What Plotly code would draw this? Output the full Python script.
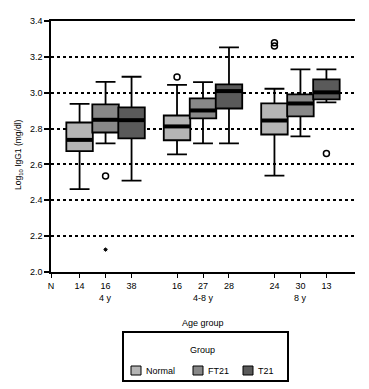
import plotly.graph_objects as go

# ---- data ----
age_groups = ["4 y", "4-8 y", "8 y"]
series = ["Normal", "FT21", "T21"]
n_normal = [14, 16, 24]
n_ft21 = [16, 27, 30]
n_t21 = [38, 28, 13]

normal_q1 = [2.674, 2.735, 2.767]
normal_med = [2.737, 2.812, 2.845]
normal_q3 = [2.834, 2.873, 2.940]
normal_lo = [2.462, 2.656, 2.538]
normal_hi = [2.938, 3.044, 3.022]

ft21_q1 = [2.778, 2.857, 2.868]
ft21_med = [2.849, 2.901, 2.940]
ft21_q3 = [2.935, 2.968, 2.991]
ft21_lo = [2.717, 2.717, 2.756]
ft21_hi = [3.061, 3.059, 3.130]

t21_q1 = [2.745, 2.912, 2.963]
t21_med = [2.847, 3.009, 3.002]
t21_q3 = [2.918, 3.046, 3.074]
t21_lo = [2.510, 2.717, 2.946]
t21_hi = [3.089, 3.253, 3.130]

# outliers: (series index, age group index, value)
outlier_series = [0, 0, 0, 1, 2]
outlier_group = [1, 2, 2, 0, 2]
outlier_vals = [3.087, 3.279, 3.260, 2.536, 2.661]
extreme_series = [1]
extreme_group = [0]
extreme_vals = [2.125]

y_ticks = [2.0, 2.2, 2.4, 2.6, 2.8, 3.0, 3.2, 3.4]

# ---- layout helpers ----
group_centers = [2.1, 5.85, 9.6]
offsets = [-1.0, 0.0, 1.0]
colors = ["#b5b5b5", "#888888", "#5a5a5a"]
FONT = "Liberation Sans, Arial, sans-serif"

# figure geometry (page body has an 8px margin)
W, H = 361, 381
ML, MR, MT, MB = 43, 14, 13, 117
PW = W - ML - MR
PH = H - MT - MB


def px(X):
    return (X - ML) / PW


def py(Y):
    return (H - MB - Y) / PH


def xpos(s, g):
    return group_centers[g] + offsets[s]


stats = [
    (normal_q1, normal_med, normal_q3, normal_lo, normal_hi),
    (ft21_q1, ft21_med, ft21_q3, ft21_lo, ft21_hi),
    (t21_q1, t21_med, t21_q3, t21_lo, t21_hi),
]
ns = [n_normal, n_ft21, n_t21]

fig = go.Figure()
for s, name in enumerate(series):
    q1, med, q3, lo, hi = stats[s]
    xs = [xpos(s, g) for g in range(3)]
    fig.add_trace(go.Box(
        name=name, x=xs, q1=q1, median=med, q3=q3,
        lowerfence=lo, upperfence=hi,
        width=1.02, whiskerwidth=0.75,
        fillcolor=colors[s], line=dict(color="black", width=1.8),
        boxpoints=False, showlegend=False,
    ))

# thick medians (line-ew symbol length is 1.4 x size)
for s in range(3):
    xs = [xpos(s, g) for g in range(3)]
    fig.add_trace(go.Scatter(
        x=xs, y=stats[s][1], mode="markers", showlegend=False, hoverinfo="skip",
        marker=dict(symbol="line-ew", size=18.5, line=dict(color="black", width=4)),
    ))

fig.add_trace(go.Scatter(
    x=[xpos(s, g) for s, g in zip(outlier_series, outlier_group)], y=outlier_vals,
    mode="markers", showlegend=False,
    marker=dict(symbol="circle-open", size=6, color="black", line=dict(width=1.5)),
))
fig.add_trace(go.Scatter(
    x=[xpos(s, g) for s, g in zip(extreme_series, extreme_group)], y=extreme_vals,
    mode="markers", showlegend=False,
    marker=dict(symbol="asterisk-open", size=3.5, color="black", line=dict(width=1)),
))

tickvals = [0] + [xpos(s, g) for g in range(3) for s in range(3)]
ticktext = ["N"] + [str(ns[s][g]) for g in range(3) for s in range(3)]

for g, lab in enumerate(age_groups):
    fig.add_annotation(x=group_centers[g], y=py(290), xref="x", yref="paper",
                       text=lab, showarrow=False, yanchor="middle",
                       font=dict(size=9, color="black", family=FONT))
fig.add_annotation(x=0.5, y=py(315), xref="paper", yref="paper", text="Age group",
                   showarrow=False, yanchor="middle",
                   font=dict(size=9, color="black", family=FONT))
# y-axis title
fig.add_annotation(x=px(10), y=py(147), xref="paper", yref="paper",
                   text="Log<sub>10</sub> IgG1 (mg/dl)", textangle=-90,
                   showarrow=False, xanchor="center", yanchor="middle",
                   font=dict(size=8.5, color="black", family=FONT))

# ---- manual legend ----
shapes = [dict(type="rect", xref="paper", yref="paper",
               x0=px(115), x1=px(280), y0=py(324), y1=py(373),
               line=dict(color="black", width=2), fillcolor="white", layer="above")]
fig.add_annotation(x=px(194), y=py(342), xref="paper", yref="paper", text="Group",
                   showarrow=False, yanchor="middle", xanchor="center",
                   font=dict(size=9, color="black", family=FONT))
sw_left = [123, 185, 235]
for s, name in enumerate(series):
    shapes.append(dict(type="rect", xref="paper", yref="paper",
                       x0=px(sw_left[s]), x1=px(sw_left[s] + 10),
                       y0=py(358), y1=py(367),
                       line=dict(color="black", width=1), fillcolor=colors[s],
                       layer="above"))
    fig.add_annotation(x=px(sw_left[s] + 13), y=py(362.5), xref="paper", yref="paper",
                       text=name, showarrow=False, xanchor="left", yanchor="middle",
                       font=dict(size=9, color="black", family=FONT))

fig.update_layout(
    width=W, height=H,
    margin=dict(l=ML, r=MR, t=MT, b=MB, autoexpand=False),
    paper_bgcolor="white", plot_bgcolor="white",
    font=dict(family=FONT, size=9, color="black"),
    boxmode="overlay",
    showlegend=False,
    shapes=shapes,
    xaxis=dict(
        range=[0, 11.7], tickmode="array", tickvals=tickvals, ticktext=ticktext,
        showgrid=False, zeroline=False, showline=True, linecolor="black",
        linewidth=1.5, mirror=True, ticks="outside", ticklen=4, tickwidth=1,
        tickcolor="black", tickfont=dict(size=9),
    ),
    yaxis=dict(
        range=[2.0, 3.4], tickmode="array", tickvals=y_ticks,
        ticktext=[f"{v:.1f}" for v in y_ticks],
        showgrid=True, gridcolor="black", griddash="dot", gridwidth=1.5,
        zeroline=False, showline=True, linecolor="black", linewidth=1.5,
        ticks="outside", ticklen=5, tickwidth=1.5, tickcolor="black",
        tickfont=dict(size=9),
    ),
)

fig.write_html("out.html")
